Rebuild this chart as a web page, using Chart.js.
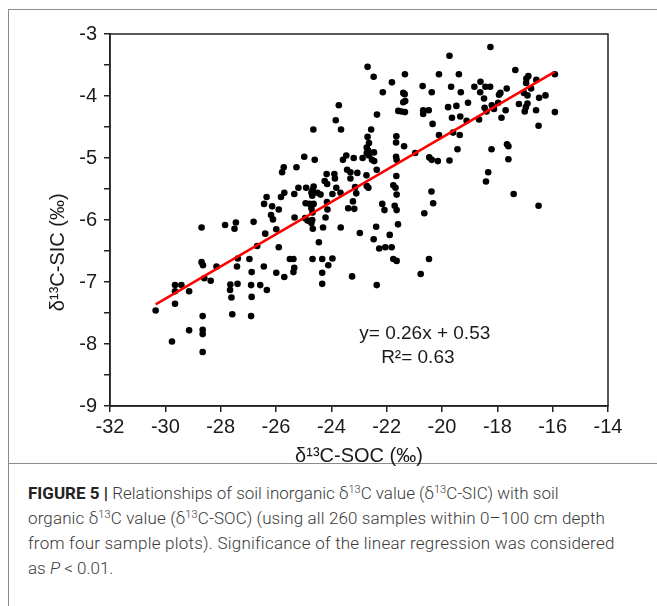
<!DOCTYPE html>
<html>
<head>
<meta charset="utf-8">
<script src="https://cdn.jsdelivr.net/npm/chart.js@4.4.1/dist/chart.umd.min.js"></script>
<style>
  html, body { margin: 0; padding: 0; background: #fff; }
  #page { position: relative; width: 657px; height: 606px; overflow: hidden; }
  #frame { position: absolute; left: 8px; top: 9px; width: 660px; height: 620px;
           border-left: 1px solid #8c8c8c; border-top: 1px solid #8c8c8c; }
  #rule { position: absolute; left: 8px; top: 463px; width: 650px; height: 0;
          border-top: 1px solid #8c8c8c; }
  #chart { position: absolute; left: 0; top: 0; }
  #caption { position: absolute; left: 28px; top: 481px; white-space: nowrap;
             font-family: Roboto, "Liberation Sans", sans-serif; font-weight: 300;
             font-size: 17px; line-height: 25px; color: #3a3a3a; }
  #caption b { font-weight: 700; color: #222; }
  #caption sup { font-size: 11px; line-height: 0; vertical-align: 6px; }
  #caption .l2 { letter-spacing: 0.12px; }
  #caption .l3 { letter-spacing: 0.22px; }
</style>
</head>
<body>
<div id="page">
  <div id="frame"></div>
  <div id="rule"></div>
  <canvas id="chart" width="657" height="470"></canvas>
  <div id="caption"><span class="l1"><b>FIGURE 5 |</b> Relationships of soil inorganic δ<sup>13</sup>C value (δ<sup>13</sup>C-SIC) with soil</span><br><span class="l2">organic δ<sup>13</sup>C value (δ<sup>13</sup>C-SOC) (using all 260 samples within 0–100 cm depth</span><br><span class="l3">from four sample plots). Significance of the linear regression was considered</span><br>as <i>P</i> &lt; 0.01.</div>
</div>
<script>
document.addEventListener("DOMContentLoaded", function () {
  // δ13C-SOC (x) and δ13C-SIC (y) of each sample
  const socValues = [
    -30.35, -29.76, -29.65, -29.42, -29.65, -29.14, -29.65, -29.14, -28.65, -28.65,
    -28.65, -28.65, -28.69, -28.69, -28.64, -28.59, -28.36, -28.15, -27.84, -27.45,
    -27.50, -26.81, -27.65, -27.66, -27.39, -27.61, -27.58, -27.38, -27.41, -26.96,
    -26.88, -26.90, -26.57, -26.33, -26.88, -26.90, -26.68, -26.44, -26.39, -25.99,
    -25.90, -25.99, -25.70, -26.18, -26.11, -26.34, -26.43, -26.14, -25.90, -25.82,
    -25.70, -25.72, -25.78,
    -19.73, -22.69, -22.47, -21.34, -20.11, -21.81, -22.14, -21.40, -21.35, -20.70,
    -20.37, -19.67, -23.73, -21.40, -21.33, -21.58, -21.46, -21.34, -22.35, -20.68,
    -20.48, -20.68, -19.78, -19.64, -20.34, -23.84, -23.65, -24.65, -22.56, -19.60,
    -20.11, -22.69, -21.65, -21.66, -22.64, -22.72, -22.67, -21.37, -19.44, -20.97,
    -22.87, -22.64, -22.72, -22.46, -22.53, -22.45, -21.66, -21.64, -20.46, -20.37,
    -20.15, -19.73, -24.98, -24.60, -23.58, -23.46, -23.19, -25.26, -22.36, -23.43,
    -23.31, -23.31, -23.06, -22.73, -24.17, -23.89, -23.87, -24.24, -24.15, -21.65,
    -24.64, -24.68, -24.91, -24.69, -24.50, -24.39, -24.72, -25.19, -25.34, -23.96,
    -23.82, -23.67, -23.10, -23.14, -22.72, -22.66, -21.76, -21.68, -21.64, -20.38,
    -24.93, -24.78, -24.64, -24.72, -24.68, -24.16, -23.22, -23.17, -23.39, -24.14,
    -22.16, -22.08, -21.71, -21.64, -20.32, -20.64, -25.33, -24.95, -24.69, -24.86,
    -24.72, -24.21, -24.67, -24.30, -23.66, -22.38, -21.59, -22.97, -21.89, -24.45,
    -22.47, -22.27, -22.05, -21.82, -25.50, -25.37, -24.68, -24.33, -23.96, -24.11,
    -21.76, -21.64, -20.47, -25.34, -25.37, -24.33, -23.25, -20.77, -24.33, -22.36,
    -18.25, -19.39, -17.35, -16.88, -16.95, -15.92, -18.61, -18.62, -18.43, -18.26,
    -19.32, -18.83, -16.96, -16.59, -16.78, -17.66, -17.89, -17.94, -17.04, -16.91,
    -16.26, -16.49, -18.48, -19.06, -19.48, -18.20, -17.97, -18.46, -18.39, -17.22,
    -16.91, -16.97, -18.12, -17.70, -17.01, -16.60, -15.92, -19.34, -19.11, -18.66,
    -17.85, -16.51, -19.36, -18.21, -17.65, -17.60, -17.60, -18.33, -18.41, -17.41,
    -16.51
  ];
  const sicValues = [
    -7.46, -7.96, -7.05, -7.05, -7.15, -7.15, -7.35, -7.78, -7.55, -7.77,
    -7.84, -8.13, -6.12, -6.68, -6.73, -6.94, -6.98, -6.75, -6.08, -6.04,
    -6.14, -6.03, -7.04, -7.13, -7.03, -7.25, -7.52, -6.62, -6.75, -6.63,
    -6.84, -7.05, -7.05, -7.13, -7.24, -7.55, -6.42, -6.75, -6.22, -6.15,
    -6.44, -6.85, -6.92, -5.92, -5.99, -5.63, -5.74, -5.78, -5.83, -5.63,
    -5.56, -5.15, -5.23,
    -3.35, -3.53, -3.69, -3.65, -3.65, -3.78, -3.94, -3.95, -3.97, -3.84,
    -3.94, -3.85, -4.15, -4.10, -4.08, -4.24, -4.25, -4.26, -4.30, -4.23,
    -4.23, -4.29, -4.18, -4.35, -4.45, -4.39, -4.54, -4.54, -4.54, -4.59,
    -4.63, -4.66, -4.65, -4.75, -4.76, -4.83, -4.88, -4.81, -4.86, -4.92,
    -5.00, -4.96, -4.92, -4.91, -5.03, -5.05, -4.98, -5.03, -4.99, -5.03,
    -5.05, -5.04, -4.98, -5.03, -5.03, -4.96, -5.00, -5.15, -5.19, -5.19,
    -5.23, -5.33, -5.24, -5.28, -5.26, -5.26, -5.33, -5.37, -5.42, -5.29,
    -5.46, -5.52, -5.48, -5.61, -5.56, -5.59, -5.56, -5.48, -5.58, -5.58,
    -5.48, -5.56, -5.57, -5.47, -5.45, -5.48, -5.44, -5.48, -5.59, -5.54,
    -5.73, -5.74, -5.74, -5.81, -5.88, -5.71, -5.70, -5.82, -5.81, -5.83,
    -5.74, -5.84, -5.77, -5.84, -5.73, -5.89, -5.96, -5.97, -6.00, -6.01,
    -6.05, -5.96, -6.14, -6.12, -6.12, -6.11, -6.07, -6.21, -6.24, -6.36,
    -6.31, -6.46, -6.44, -6.44, -6.63, -6.63, -6.63, -6.63, -6.62, -6.73,
    -6.63, -6.66, -6.63, -6.77, -6.84, -6.85, -6.91, -6.87, -7.03, -7.05,
    -3.21, -3.65, -3.58, -3.68, -3.72, -3.65, -3.77, -3.94, -3.85, -3.85,
    -3.94, -3.85, -3.79, -3.74, -3.88, -3.88, -3.95, -3.98, -3.95, -3.99,
    -3.99, -4.03, -4.04, -4.11, -4.16, -4.15, -4.11, -4.19, -4.25, -4.13,
    -4.12, -4.18, -4.21, -4.23, -4.25, -4.23, -4.26, -4.33, -4.40, -4.38,
    -4.35, -4.48, -4.63, -4.86, -4.78, -4.81, -5.02, -5.23, -5.38, -5.58,
    -5.77
  ];

  // ends of the fitted line as drawn in the figure
  const fitX = [-30.35, -15.93];
  const fitY = [-7.36, -3.61];

  const equationLines = ["y= 0.26x + 0.53", "R\u00B2= 0.63"];

  const xTitle = "\u03B4\u00B9\u00B3C-SOC (\u2030)";
  const yTitle = "\u03B4\u00B9\u00B3C-SIC (\u2030)";

  const fontFamily = "'Liberation Sans', Arial, sans-serif";
  const ink = "#1a1a1a";

  const points = socValues.map((x, i) => ({ x: x, y: sicValues[i] }));
  const fitLine = fitX.map((x, i) => ({ x: x, y: fitY[i] }));

  // box round the plot, the y title (sits below centre) and the regression equation
  const extras = {
    id: "extras",
    afterDatasetsDraw(chart) {
      const { ctx, chartArea: a, scales } = chart;
      ctx.save();
      ctx.strokeStyle = "#222";
      ctx.lineWidth = 1.5;
      ctx.strokeRect(a.left, a.top, a.right - a.left, a.bottom - a.top);

      ctx.fillStyle = ink;
      ctx.font = "20px " + fontFamily;
      ctx.textBaseline = "middle";
      ctx.textAlign = "center";
      ctx.save();
      ctx.translate(58, scales.y.getPixelForValue(-6.52));
      ctx.rotate(-Math.PI / 2);
      ctx.fillText(yTitle, 0, 0);
      ctx.restore();

      ctx.font = "19px " + fontFamily;
      ctx.textAlign = "left";
      ctx.fillText(equationLines[0], scales.x.getPixelForValue(-22.99), scales.y.getPixelForValue(-7.84));
      ctx.fillText(equationLines[1], scales.x.getPixelForValue(-22.20), scales.y.getPixelForValue(-8.23));
      ctx.restore();
    }
  };

  const ctx = document.getElementById("chart").getContext("2d");
  new Chart(ctx, {
    type: "scatter",
    data: {
      datasets: [
        {
          type: "line",
          data: fitLine,
          borderColor: "#ff0000",
          borderWidth: 2.5,
          pointRadius: 0,
          fill: false,
          order: 0
        },
        {
          data: points,
          backgroundColor: "#000",
          borderWidth: 0,
          pointRadius: 3.3,
          order: 1
        }
      ]
    },
    options: {
      responsive: false,
      animation: false,
      layout: { padding: { left: 0, right: 49, top: 34, bottom: 2 } },
      plugins: {
        legend: { display: false },
        tooltip: { enabled: false }
      },
      scales: {
        x: {
          type: "linear",
          min: -32,
          max: -14,
          ticks: {
            stepSize: 2,
            color: ink,
            padding: 3,
            font: { family: fontFamily, size: 20 }
          },
          grid: { drawOnChartArea: false, tickLength: 6, color: "#222", lineWidth: 1.5 },
          border: { color: "#222", width: 1.5 },
          title: {
            display: true,
            text: xTitle,
            color: ink,
            padding: { top: 0, bottom: 0 },
            font: { family: fontFamily, size: 20 }
          },
          afterFit(scale) { scale.height = 62; }
        },
        y: {
          min: -9,
          max: -3,
          ticks: {
            stepSize: 0.5,
            color: ink,
            padding: 7,
            font: { family: fontFamily, size: 20 },
            callback: v => Number.isInteger(v) ? v : ""
          },
          grid: { drawOnChartArea: false, tickLength: 6, color: "#222", lineWidth: 1.5 },
          border: { color: "#222", width: 1.5 },
          afterFit(scale) { scale.width = 110; }
        }
      }
    },
    plugins: [extras]
  });
});
</script>
</body>
</html>
